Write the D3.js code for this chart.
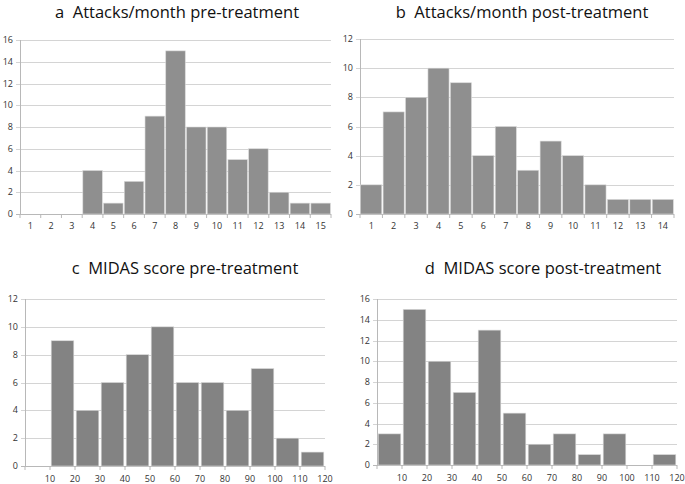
<!DOCTYPE html>
<html>
<head>
<meta charset="utf-8">
<script src="https://cdn.jsdelivr.net/npm/d3@7"></script>
<style>
  body { margin: 0; background: #fff; }
  svg { display: block; }
  .title { white-space: pre; }
</style>
</head>
<body>
<div id="chart"></div>
<script>
// attacks per month histograms (count of patients per bin)
var attackPreCats = [1, 2, 3, 4, 5, 6, 7, 8, 9, 10, 11, 12, 13, 14, 15];
var attackPreVals = [0, 0, 0, 4, 1, 3, 9, 15, 8, 8, 5, 6, 2, 1, 1];
var attackPostCats = [1, 2, 3, 4, 5, 6, 7, 8, 9, 10, 11, 12, 13, 14];
var attackPostVals = [2, 7, 8, 10, 9, 4, 6, 3, 5, 4, 2, 1, 1, 1];

// MIDAS score histograms, bins of width 10 starting at 0
var midasBinStarts = [0, 10, 20, 30, 40, 50, 60, 70, 80, 90, 100, 110];
var midasPreVals = [0, 9, 4, 6, 8, 10, 6, 6, 4, 7, 2, 1];
var midasPostVals = [3, 15, 10, 7, 13, 5, 2, 3, 1, 3, 0, 1];
var midasTicks = [10, 20, 30, 40, 50, 60, 70, 80, 90, 100, 110, 120];

var yTicksA = [0, 2, 4, 6, 8, 10, 12, 14, 16];
var yTicksB = [0, 2, 4, 6, 8, 10, 12];
var yTicksC = [0, 2, 4, 6, 8, 10, 12];
var yTicksD = [0, 2, 4, 6, 8, 10, 12, 14, 16];

var W = 685, H = 484;
var svg = d3.select("#chart").append("svg")
    .attr("width", W)
    .attr("height", H);

var gridColor = "#d4d4d4",
    axisColor = "#b8b8b8",
    labelColor = "#333";

const draw_panel = (p) => {
    var g = svg.append("g");

    // title
    g.append("text")
      .attr("class", "title")
      .attr("x", p.titleX)
      .attr("y", p.titleY)
      .attr("text-anchor", "middle")
      .style("font-family", "'Open Sans', sans-serif")
      .style("font-size", "16.5px")
      .style("fill", "#111")
      .text(p.title);

    var y = d3.scaleLinear()
      .domain([0, d3.max(p.yTicks)])
      .range([p.y1, p.y0]);

    // gridlines
    g.selectAll(".grid")
      .data(p.yTicks)
      .enter()
      .append("line")
      .attr("x1", p.x0 - 4)
      .attr("x2", p.x1)
      .attr("y1", d => Math.round(y(d)) + 0.5)
      .attr("y2", d => Math.round(y(d)) + 0.5)
      .attr("stroke", d => d === 0 ? axisColor : gridColor)
      .attr("stroke-width", 1.2);

    g.selectAll(".ylab")
      .data(p.yTicks)
      .enter()
      .append("text")
      .attr("x", p.x0 - 7)
      .attr("y", d => y(d) + 3)
      .attr("text-anchor", "end")
      .style("font-family", "'Open Sans', sans-serif")
      .style("font-size", "9px")
      .style("fill", labelColor)
      .text(d => d);

    // y axis line
    g.append("line")
      .attr("x1", p.x0 + 0.5).attr("x2", p.x0 + 0.5)
      .attr("y1", p.y0).attr("y2", p.y1)
      .attr("stroke", axisColor);

    if (p.kind === "band") {
        var x = d3.scaleBand()
          .domain(p.cats)
          .range([p.x0, p.x1])
          .paddingInner(0.06)
          .paddingOuter(0.03);

        g.selectAll(".bar")
          .data(p.vals)
          .enter()
          .append("rect")
          .attr("x", (d, i) => x(p.cats[i]))
          .attr("width", x.bandwidth())
          .attr("y", d => y(d))
          .attr("height", d => y(0) - y(d))
          .attr("fill", p.barColor)
          .attr("stroke", "#d9d9d9")
          .attr("stroke-width", 0.6);

        // tick marks at category boundaries
        var bounds = d3.range(p.cats.length + 1).map(i => p.x0 + i * (p.x1 - p.x0) / p.cats.length);
        g.selectAll(".tick")
          .data(bounds)
          .enter()
          .append("line")
          .attr("x1", d => d).attr("x2", d => d)
          .attr("y1", p.y1).attr("y2", p.y1 + 4)
          .attr("stroke", axisColor);

        g.selectAll(".xlab")
          .data(p.cats)
          .enter()
          .append("text")
          .attr("x", d => x(d) + x.bandwidth() / 2)
          .attr("y", p.y1 + 15)
          .attr("text-anchor", "middle")
          .style("font-family", "'Open Sans', sans-serif")
          .style("font-size", "9px")
          .style("fill", labelColor)
          .text(d => d);
    } else {
        var x = d3.scaleLinear()
          .domain([0, 120])
          .range([p.x0, p.x1]);
        var gap = 1.2;

        g.selectAll(".bar")
          .data(p.vals)
          .enter()
          .append("rect")
          .attr("x", (d, i) => x(p.bins[i]) + gap)
          .attr("width", (d, i) => x(p.bins[i] + 10) - x(p.bins[i]) - 2 * gap)
          .attr("y", d => y(d))
          .attr("height", d => y(0) - y(d))
          .attr("fill", p.barColor)
          .attr("stroke", "#d9d9d9")
          .attr("stroke-width", 0.6);

        g.selectAll(".tick")
          .data([0].concat(p.ticks))
          .enter()
          .append("line")
          .attr("x1", d => x(d)).attr("x2", d => x(d))
          .attr("y1", p.y1).attr("y2", p.y1 + 4)
          .attr("stroke", axisColor);

        g.selectAll(".xlab")
          .data(p.ticks)
          .enter()
          .append("text")
          .attr("x", d => x(d))
          .attr("y", p.y1 + 16)
          .attr("text-anchor", "middle")
          .style("font-family", "'Open Sans', sans-serif")
          .style("font-size", "9px")
          .style("fill", labelColor)
          .text(d => d);
    }
}

draw_panel({kind: "band", title: "a  Attacks/month pre-treatment", titleX: 177, titleY: 18,
    cats: attackPreCats, vals: attackPreVals, yTicks: yTicksA,
    x0: 20, x1: 331, y0: 40, y1: 214, barColor: "#8f8f8f"});

draw_panel({kind: "band", title: "b  Attacks/month post-treatment", titleX: 522, titleY: 18,
    cats: attackPostCats, vals: attackPostVals, yTicks: yTicksB,
    x0: 360, x1: 674, y0: 39, y1: 214, barColor: "#8f8f8f"});

draw_panel({kind: "bins", title: "c  MIDAS score pre-treatment", titleX: 185, titleY: 274,
    bins: midasBinStarts, vals: midasPreVals, ticks: midasTicks, yTicks: yTicksC,
    x0: 25, x1: 325, y0: 299, y1: 466, barColor: "#838383"});

draw_panel({kind: "bins", title: "d  MIDAS score post-treatment", titleX: 543, titleY: 274,
    bins: midasBinStarts, vals: midasPostVals, ticks: midasTicks, yTicks: yTicksD,
    x0: 377, x1: 677, y0: 299, y1: 465, barColor: "#838383"});
</script>
</body>
</html>
